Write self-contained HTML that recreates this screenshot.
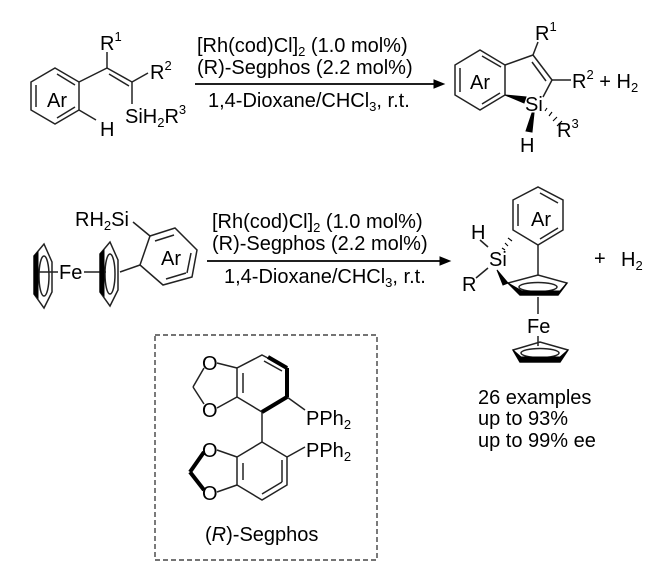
<!DOCTYPE html>
<html><head><meta charset="utf-8"><style>
html,body{margin:0;padding:0;background:#fff}
svg{display:block}
text{font-family:"Liberation Sans",Arial,sans-serif;fill:#000}
</style></head><body>
<svg width="672" height="576" viewBox="0 0 672 576" xmlns="http://www.w3.org/2000/svg">
<g stroke="#222" stroke-width="1.5" fill="none">
<!-- Reactant 1 -->
<polygon points="55,68 79,82 79,110 55,124 31,110 31,82"/>
<line x1="36" y1="85" x2="36" y2="107"/>
<line x1="57" y1="74" x2="75" y2="85"/>
<line x1="57" y1="118" x2="75" y2="107"/>
<line x1="79" y1="82" x2="107" y2="68"/>
<line x1="107" y1="68" x2="107" y2="52"/>
<line x1="107" y1="68" x2="132" y2="82"/>
<line x1="109" y1="74" x2="129" y2="86"/>
<line x1="132" y1="82" x2="148" y2="73"/>
<line x1="132" y1="82" x2="132" y2="104"/>
<line x1="79" y1="110" x2="96" y2="120"/>
<!-- Arrow 1 -->
<line x1="195" y1="84" x2="434" y2="84" stroke="#000" stroke-width="1.7"/>
<!-- Product 1 -->
<polygon points="480,50 505,65 505,95 480,110 455,95 455,65"/>
<line x1="460" y1="68" x2="460" y2="92"/>
<line x1="482" y1="56" x2="501" y2="67"/>
<line x1="482" y1="104" x2="500" y2="93"/>
<line x1="505" y1="65" x2="533" y2="55"/>
<line x1="533" y1="55" x2="552" y2="80"/>
<line x1="532" y1="62" x2="546" y2="81"/>
<line x1="552" y1="80" x2="543" y2="97"/>
<line x1="533" y1="55" x2="538" y2="42"/>
<line x1="552" y1="80" x2="571" y2="80"/>
<!-- Arrow 2 -->
<line x1="207" y1="261" x2="440" y2="261" stroke="#000" stroke-width="1.7"/>
<!-- Reactant 2 -->
<polygon points="150,236 175,228 197,250 192,277 163,285 140,265"/>
<line x1="155" y1="241" x2="174" y2="235"/>
<line x1="191" y1="253" x2="187" y2="273"/>
<line x1="166" y1="279" x2="186" y2="273"/>
<line x1="133" y1="222" x2="150" y2="236"/>
<line x1="140" y1="265" x2="120" y2="272"/>
<line x1="38" y1="272" x2="58" y2="272"/>
<line x1="84" y1="272" x2="106" y2="272"/>
<polygon points="34,256 44,244 52,262 52,292 44,308 34,294"/>
<ellipse cx="44" cy="276" rx="5" ry="20"/>
<polygon points="100,254 110,242 118,260 118,290 110,306 100,292"/>
<ellipse cx="110" cy="274" rx="5" ry="20"/>
<!-- Product 2 -->
<polygon points="513,200 538,187 563,200 563,230 538,245 513,230"/>
<line x1="518" y1="204" x2="518" y2="226"/>
<line x1="540" y1="193" x2="558" y2="203"/>
<line x1="540" y1="239" x2="558" y2="228"/>
<line x1="538" y1="245" x2="538" y2="275"/>
<line x1="480" y1="240" x2="488" y2="247"/>
<line x1="476" y1="278" x2="488" y2="268"/>
<polygon points="508,283 538,275 567,283 558,295 520,295"/>
<ellipse cx="538" cy="287" rx="19" ry="4.5"/>
<line x1="538" y1="297" x2="538" y2="314"/>
<line x1="538" y1="336" x2="538" y2="346"/>
<polygon points="513,350 540,342 568,350 560,362 520,362"/>
<ellipse cx="540" cy="353" rx="19" ry="4.5"/>
<!-- Segphos box -->
<rect x="155" y="335" width="222" height="225" stroke-dasharray="5,3" stroke-width="1.2"/>
<polygon points="262,355 287,368 287,397 262,412 237,397 237,368"/>
<line x1="243" y1="373" x2="243" y2="393"/>
<line x1="264" y1="361" x2="282" y2="371"/>
<line x1="237" y1="368" x2="217" y2="363"/>
<line x1="237" y1="397" x2="217" y2="408"/>
<line x1="204" y1="368" x2="193" y2="387"/>
<line x1="193" y1="387" x2="204" y2="404"/>
<line x1="287" y1="397" x2="305" y2="410"/>
<line x1="262" y1="412" x2="262" y2="442"/>
<polygon points="262,442 287,457 287,485 262,500 237,485 237,457"/>
<line x1="282" y1="460" x2="282" y2="482"/>
<line x1="243" y1="463" x2="243" y2="480"/>
<line x1="262" y1="494" x2="282" y2="482"/>
<line x1="237" y1="457" x2="217" y2="450"/>
<line x1="237" y1="485" x2="217" y2="492"/>
<line x1="287" y1="457" x2="305" y2="447"/>
</g>
<!-- bold bonds / wedges -->
<g fill="#000" stroke="#000">
<polygon points="434,80 444,84 434,88"/>
<polygon points="440,257 450,261 440,265"/>
<polygon points="505,95 526,97 524,103"/>
<polygon points="532,113 534,113 532,132 526,131"/>
<line x1="268" y1="357" x2="287" y2="368" stroke-width="4"/>
<line x1="287" y1="368" x2="287" y2="397" stroke-width="4"/>
<line x1="287" y1="397" x2="262" y2="412" stroke-width="4"/>
<line x1="204" y1="452" x2="190" y2="472" stroke-width="4"/>
<line x1="190" y1="472" x2="204" y2="490" stroke-width="4"/>
<polygon points="34,256 38,252 38,298 34,294"/>
<polygon points="100,254 104,250 104,296 100,292"/>
<polygon points="497,270 508,283 503,285"/>
<polygon points="508,283 520,295 558,295 567,283 560,291 522,291"/>
<polygon points="513,350 520,362 560,362 568,350 560,357 521,357"/>
</g>
<g stroke="#000" stroke-width="1.1">
<line x1="545" y1="111" x2="547" y2="108"/><line x1="549" y1="116" x2="552" y2="112"/><line x1="553" y1="121" x2="557" y2="117"/><line x1="557" y1="126" x2="562" y2="121"/>
<line x1="502" y1="248" x2="505" y2="250"/><line x1="505" y1="243" x2="508" y2="246"/><line x1="508" y1="238" x2="512" y2="241"/>
</g>
<!-- Texts -->
<g font-size="20">
<text x="47" y="107">Ar</text>
<text x="100" y="50">R<tspan font-size="13" dy="-9">1</tspan></text>
<text x="150" y="79">R<tspan font-size="13" dy="-9">2</tspan></text>
<text x="125" y="123">SiH<tspan font-size="13" dy="4">2</tspan><tspan dy="-4">R</tspan><tspan font-size="13" dy="-9">3</tspan></text>
<text x="100" y="136">H</text>
<text x="197" y="52">[Rh(cod)Cl]<tspan font-size="13" dy="4">2</tspan><tspan dy="-4"> (1.0 mol%)</tspan></text>
<text x="197" y="74">(R)-Segphos (2.2 mol%)</text>
<text x="208" y="107">1,4-Dioxane/CHCl<tspan font-size="13" dy="4">3</tspan><tspan dy="-4">, r.t.</tspan></text>
<text x="470" y="89">Ar</text>
<text x="535" y="40">R<tspan font-size="13" dy="-9">1</tspan></text>
<text x="572" y="88">R<tspan font-size="13" dy="-9">2</tspan><tspan dy="9"> + H</tspan><tspan font-size="13" dy="4">2</tspan></text>
<text x="525" y="111">Si</text>
<text x="557" y="137">R<tspan font-size="13" dy="-9">3</tspan></text>
<text x="520" y="152">H</text>
<text x="75" y="226">RH<tspan font-size="13" dy="4">2</tspan><tspan dy="-4">Si</tspan></text>
<text x="59" y="279">Fe</text>
<text x="161" y="265">Ar</text>
<text x="212" y="228">[Rh(cod)Cl]<tspan font-size="13" dy="4">2</tspan><tspan dy="-4"> (1.0 mol%)</tspan></text>
<text x="212" y="250">(R)-Segphos (2.2 mol%)</text>
<text x="224" y="283">1,4-Dioxane/CHCl<tspan font-size="13" dy="4">3</tspan><tspan dy="-4">, r.t.</tspan></text>
<text x="531" y="226">Ar</text>
<text x="471" y="239">H</text>
<text x="489" y="266">Si</text>
<text x="462" y="291">R</text>
<text x="594" y="265">+</text>
<text x="621" y="266">H<tspan font-size="13" dy="4">2</tspan></text>
<text x="527" y="333">Fe</text>
<text x="478" y="404">26 examples</text>
<text x="478" y="425">up to 93%</text>
<text x="478" y="447">up to 99% ee</text>
<text x="202" y="370">O</text>
<text x="202" y="417">O</text>
<text x="202" y="457">O</text>
<text x="202" y="500">O</text>
<text x="306" y="425">PPh<tspan font-size="13" dy="4">2</tspan></text>
<text x="306" y="457">PPh<tspan font-size="13" dy="4">2</tspan></text>
<text x="205" y="541">(<tspan font-style="italic">R</tspan>)-Segphos</text>
</g>
</svg>
</body></html>
